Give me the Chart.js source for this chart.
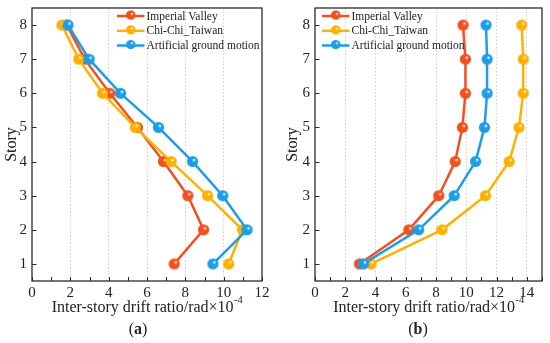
<!DOCTYPE html>
<html>
<head>
<meta charset="utf-8">
<script src="https://cdn.jsdelivr.net/npm/chart.js@4/dist/chart.umd.min.js"></script>
<style>
  html, body { margin: 0; padding: 0; background: #fff; }
  .panel { position: absolute; top: 0; width: 275px; height: 343px; }
  #pa { left: 0; }
  #pb { left: 275px; }
</style>
</head>
<body>
<div class="panel" id="pa"><canvas id="chartA" width="275" height="343"></canvas></div>
<div class="panel" id="pb"><canvas id="chartB" width="275" height="343"></canvas></div>
<script>
// --- data ---
const stories = [1, 2, 3, 4, 5, 6, 7, 8];
const seriesNames = ['Imperial Valley', 'Chi-Chi_Taiwan', 'Artificial ground motion'];
const seriesColors = ['#F2501F', '#FFB000', '#1E9DE6'];

// (a)
const imperialA = [7.42, 8.95, 8.13, 6.86, 5.5, 4.06, 2.75, 1.82];
const chichiA   = [10.26, 10.98, 9.16, 7.26, 5.39, 3.68, 2.44, 1.56];
const artificialA = [9.44, 11.22, 9.95, 8.38, 6.6, 4.62, 2.98, 1.88];

// (b)
const imperialB = [2.94, 6.2, 8.18, 9.26, 9.74, 9.94, 9.94, 9.78];
const chichiB   = [3.7, 8.39, 11.27, 12.83, 13.48, 13.76, 13.76, 13.66];
const artificialB = [3.2, 6.85, 9.2, 10.61, 11.2, 11.37, 11.37, 11.3];

const SERIF = "'Liberation Serif', 'Times New Roman', serif";

// shaded ball marker like the original
function ball(color) {
  const c = document.createElement('canvas');
  c.width = 13; c.height = 13;
  const g = c.getContext('2d');
  const grad = g.createRadialGradient(8.3, 4.7, 0.3, 6.5, 6.5, 6);
  grad.addColorStop(0, '#ffffff');
  grad.addColorStop(0.28, color);
  grad.addColorStop(1, color);
  g.fillStyle = grad;
  g.beginPath(); g.arc(6.5, 6.5, 5.6, 0, Math.PI * 2); g.fill();
  return c;
}
const balls = seriesColors.map(ball);

// frame, inward ticks, x title, panel letter, legend
const decor = {
  id: 'decor',
  afterDraw(chart, args, o) {
    const ctx = chart.ctx, a = chart.chartArea;
    const xs = chart.scales.x, ys = chart.scales.y;
    ctx.save();
    ctx.strokeStyle = '#2b2b2b';
    ctx.lineWidth = 1.3;
    ctx.strokeRect(a.left, a.top, a.right - a.left, a.bottom - a.top);
    ctx.beginPath();
    xs.ticks.forEach(t => {
      const px = Math.round(xs.getPixelForValue(t.value)) + 0.5;
      ctx.moveTo(px, a.bottom); ctx.lineTo(px, a.bottom - 4);
    });
    ys.ticks.forEach(t => {
      const py = Math.round(ys.getPixelForValue(t.value)) + 0.5;
      ctx.moveTo(a.left, py); ctx.lineTo(a.left + 4.5, py);
    });
    ctx.lineWidth = 1;
    ctx.stroke();

    // x axis title with superscript
    ctx.fillStyle = '#222';
    ctx.textBaseline = 'alphabetic';
    const main = 'Inter-story drift ratio/rad\u00d710';
    ctx.font = '10.5px ' + SERIF;
    const supW = ctx.measureText('-4').width;
    ctx.font = '16px ' + SERIF;
    const mainW = ctx.measureText(main).width;
    const cx = (a.left + a.right) / 2;
    const x0 = cx - (mainW + supW) / 2;
    ctx.textAlign = 'left';
    ctx.fillText(main, x0, 312);
    ctx.font = '10.5px ' + SERIF;
    ctx.fillText('-4', x0 + mainW + 0.5, 303);

    // panel letter
    ctx.font = '16px ' + SERIF;
    const wl = ctx.measureText('(').width;
    ctx.font = 'bold 16px ' + SERIF;
    const wa = ctx.measureText(o.letter).width;
    const lx = o.letterX - (2 * wl + wa) / 2;
    ctx.font = '16px ' + SERIF;
    ctx.fillText('(', lx, 334);
    ctx.fillText(')', lx + wl + wa, 334);
    ctx.font = 'bold 16px ' + SERIF;
    ctx.fillText(o.letter, lx + wl, 334);

    // legend
    ctx.font = '11.5px ' + SERIF;
    ctx.textBaseline = 'middle';
    chart.data.datasets.forEach((ds, i) => {
      const y = o.legendRows[i];
      ctx.strokeStyle = ds.borderColor;
      ctx.lineWidth = 2.5;
      ctx.beginPath();
      ctx.moveTo(o.legendX, y); ctx.lineTo(o.legendX + 27.5, y);
      ctx.stroke();
      ctx.drawImage(balls[i], o.legendX + 13.75 - 5.5, y - 6.5, 11, 11);
      ctx.fillStyle = '#222';
      ctx.fillText(ds.label, o.legendX + 29.5, y + 0.5);
    });
    ctx.restore();
  }
};

function makePanel(id, xMax, values, pad, yAxis, letter, letterX, legendX) {
  const datasets = values.map((vals, i) => ({
    label: seriesNames[i],
    data: stories.map((s, k) => ({ x: vals[k], y: s })),
    borderColor: seriesColors[i],
    backgroundColor: seriesColors[i],
    borderWidth: 2.5,
    pointStyle: balls[i],
    pointRadius: 5.5,
    showLine: true,
    order: 2 - i
  }));
  return new Chart(document.getElementById(id), {
    type: 'scatter',
    data: { datasets },
    options: {
      responsive: false,
      animation: false,
      layout: { padding: pad },
      plugins: {
        legend: { display: false },
        tooltip: { enabled: false },
        decor: { letter, letterX, legendX, legendRows: [16, 30.8, 45.5] }
      },
      scales: {
        x: {
          type: 'linear', min: 0, max: xMax,
          afterFit: s => { s.height = 62; s.paddingLeft = 0; s.paddingRight = 0; },
          ticks: {
            stepSize: 1, autoSkip: false, maxRotation: 0, padding: 3,
            color: '#222', font: { family: SERIF, size: 15 },
            callback: v => (v % 2 === 0 ? v : '')
          },
          grid: {
            drawTicks: false, lineWidth: 1,
            color: c => (c.tick && c.tick.value % 2 === 0 && c.tick.value > 0 && c.tick.value < xMax) ? '#cfcfcf' : 'rgba(0,0,0,0)'
          },
          border: { display: false, dash: [1.5, 2] }
        },
        y: {
          type: 'linear', min: 0.5, max: 8.5,
          afterBuildTicks: s => { s.ticks = stories.map(v => ({ value: v })); },
          afterFit: s => { s.width = yAxis.w; s.paddingTop = 0; s.paddingBottom = 0; },
          ticks: { padding: 5, color: '#222', font: { family: SERIF, size: 15 } },
          grid: { display: false, drawTicks: false },
          border: { display: false },
          title: { display: true, text: 'Story', color: '#222', font: { family: SERIF, size: 16 }, padding: { top: yAxis.t, bottom: 0 } }
        }
      }
    },
    plugins: [decor]
  });
}

makePanel('chartA', 12, [imperialA, chichiA, artificialA],
  { top: 7, right: 13, bottom: 0, left: 0 }, { w: 32, t: 2.5 }, 'a', 138, 117);
makePanel('chartB', 15, [imperialB, chichiB, artificialB],
  { top: 7, right: 5, bottom: 0, left: 0 }, { w: 40, t: 8.5 }, 'b', 143, 47);
</script>
</body>
</html>
